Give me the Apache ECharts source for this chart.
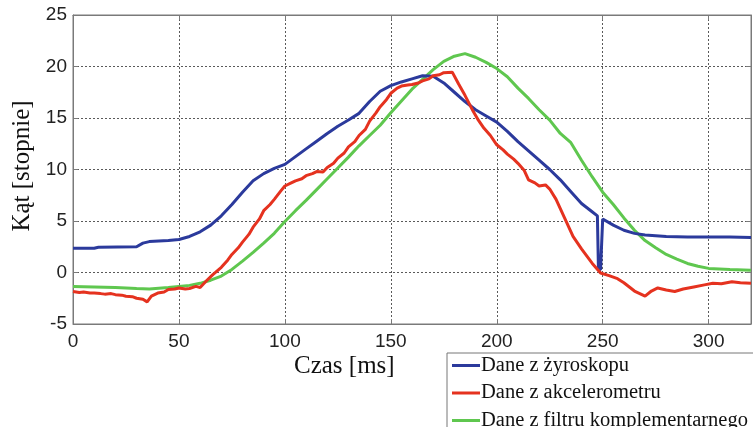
<!DOCTYPE html>
<html>
<head>
<meta charset="utf-8">
<script src="https://cdn.jsdelivr.net/npm/echarts@6/dist/echarts.min.js"></script>
<style>
html,body{margin:0;padding:0;background:#fff;}
#c{width:753px;height:427px;}
</style>
</head>
<body>
<div id="c"></div>
<script>
var seriesNames = ['Dane z żyroskopu', 'Dane z akcelerometru', 'Dane z filtru komplementarnego'];
var xTicks = [0, 50, 100, 150, 200, 250, 300];
var yTicks = [-5, 0, 5, 10, 15, 20, 25];

var gyroT = [0,10,12,30,33,36,45,50,55,60,65,70,75,80,85,90,95,100,105,110,115,120,125,130,135,140,145,150,155,160,165,170,175,180,185,190,195,200,205,210,215,220,225,230,235,240,245,247.5,248,249,250,255,260,265,270,280,290,300,310,320];
var gyroV = [2.35,2.35,2.45,2.5,2.85,3.0,3.1,3.2,3.5,3.95,4.6,5.5,6.6,7.8,8.9,9.6,10.1,10.5,11.25,12.0,12.75,13.5,14.2,14.8,15.45,16.6,17.6,18.15,18.5,18.8,19.1,19.05,18.4,17.5,16.6,15.8,15.2,14.6,13.7,12.7,11.8,10.9,10.0,9.0,7.85,6.7,5.9,5.5,0.3,0.3,5.2,4.6,4.1,3.8,3.65,3.5,3.45,3.45,3.45,3.4];

var accT = [0,3,5,8,10,13,15,18,20,23,25,28,30,33,35,37,40,43,45,48,50,53,55,58,60,63,66,70,73,75,78,80,83,85,88,90,93,95,98,100,103,105,108,110,113,115,118,120,123,125,128,130,133,135,138,140,143,145,148,150,153,155,158,160,163,165,168,170,173,175,179,182,185,189,191,194,197,200,203,205,208,210,213,215,218,220,223,225,228,232,236,240,245,249,253,257,260,265,270,273,276,280,284,288,293,298,302,306,311,315,320];
var accV = [-1.85,-1.95,-1.9,-2.0,-2.0,-2.05,-2.1,-2.05,-2.15,-2.2,-2.3,-2.35,-2.5,-2.6,-2.85,-2.3,-2.0,-1.9,-1.65,-1.6,-1.5,-1.6,-1.55,-1.35,-1.45,-0.8,-0.2,0.5,1.2,1.75,2.4,2.95,3.7,4.4,5.2,6.0,6.6,7.1,7.9,8.4,8.7,8.9,9.1,9.4,9.6,9.8,9.75,10.2,10.6,11.1,11.6,12.2,12.7,13.3,13.9,14.7,15.5,16.1,16.8,17.4,17.9,18.1,18.2,18.25,18.4,18.6,18.8,19.1,19.2,19.4,19.45,18.3,17.2,15.6,14.9,14.0,13.3,12.4,11.9,11.5,11.0,10.6,9.9,9.0,8.7,8.4,8.5,8.1,7.1,5.3,3.5,2.3,0.9,-0.05,-0.3,-0.6,-1.0,-1.8,-2.3,-1.8,-1.5,-1.7,-1.85,-1.6,-1.4,-1.2,-1.05,-1.1,-0.9,-1.0,-1.05];

var compT = [0,10,20,30,36,45,50,55,60,65,70,75,80,85,90,95,100,105,110,115,120,125,130,135,140,145,150,155,160,165,170,175,180,185,190,195,200,205,210,215,220,225,230,235,240,245,250,255,260,265,270,275,280,285,290,295,300,310,320];
var compV = [-1.35,-1.4,-1.45,-1.55,-1.6,-1.45,-1.35,-1.25,-1.05,-0.75,-0.35,0.3,1.1,1.95,2.85,3.8,4.95,6.0,7.0,8.05,9.1,10.15,11.2,12.3,13.3,14.3,15.5,16.65,17.8,18.75,19.7,20.5,21.0,21.25,20.9,20.4,19.8,19.0,17.9,16.9,15.8,14.8,13.5,12.6,10.9,9.3,7.8,6.6,5.3,4.1,3.1,2.4,1.75,1.3,0.88,0.6,0.4,0.28,0.23];

var colors = ['#2b3a9c', '#e5321f', '#5fc74f'];

function pairs(t, v) { return t.map(function (x, i) { return [x, v[i]]; }); }

var chart = echarts.init(document.getElementById('c'), null, {renderer: 'canvas'});
var axisCol = '#7a7a7a';
var gridLine = {show: true, lineStyle: {color: '#5a5a5a', type: [2, 2], width: 1}};
var tickLbl = {fontFamily: 'Liberation Sans', fontSize: 19, color: '#222'};

chart.setOption({
  animation: false,
  backgroundColor: '#ffffff',
  grid: {left: 73, right: 2, top: 15, bottom: 103, show: true, borderColor: axisCol, borderWidth: 1, backgroundColor: '#fff'},
  xAxis: [{
    type: 'value', min: 0, max: 320, interval: 50,
    axisLine: {show: true, onZero: false, lineStyle: {color: axisCol}},
    axisTick: {show: true, inside: true, length: 5, lineStyle: {color: axisCol}},
    axisLabel: Object.assign({margin: 8, customValues: xTicks}, tickLbl),
    splitLine: gridLine
  }, {
    type: 'value', min: 0, max: 320, interval: 50, position: 'top',
    axisLine: {show: true, onZero: false, lineStyle: {color: axisCol}},
    axisTick: {show: true, inside: true, length: 5, lineStyle: {color: axisCol}},
    axisLabel: {show: false}, splitLine: {show: false}
  }],
  yAxis: [{
    type: 'value', min: -5, max: 25, interval: 5,
    axisLine: {show: true, onZero: false, lineStyle: {color: axisCol}},
    axisTick: {show: true, inside: true, length: 5, lineStyle: {color: axisCol}},
    axisLabel: Object.assign({margin: 6, customValues: yTicks}, tickLbl),
    splitLine: gridLine
  }, {
    type: 'value', min: -5, max: 25, interval: 5, position: 'right',
    axisLine: {show: true, onZero: false, lineStyle: {color: axisCol}},
    axisTick: {show: true, inside: true, length: 5, lineStyle: {color: axisCol}},
    axisLabel: {show: false}, splitLine: {show: false}
  }],
  legend: {
    orient: 'vertical', left: 447, top: 353, height: 120, width: 320,
    padding: [2, 6, 6, 5],
    itemGap: 6.5, itemWidth: 28, itemHeight: 3, icon: 'rect',
    borderColor: '#777', borderWidth: 1, backgroundColor: '#fff',
    textStyle: {fontFamily: 'Liberation Serif', fontSize: 20.5, lineHeight: 20.5, color: '#111', padding: [0, 0, 0, -4]},
    data: seriesNames
  },
  graphic: [
    {type: 'text', left: 294, top: 354, style: {text: 'Czas [ms]', font: '25px "Liberation Serif"', fill: '#111'}},
    {type: 'text', x: 22, y: 166, rotation: Math.PI / 2, style: {text: 'Kąt [stopnie]', font: '25px "Liberation Serif"', fill: '#111', align: 'center', verticalAlign: 'middle'}}
  ],
  series: [
    {name: seriesNames[0], type: 'line', data: pairs(gyroT, gyroV), showSymbol: false, symbol: 'none', lineStyle: {width: 3, color: colors[0]}, itemStyle: {color: colors[0]}, z: 3},
    {name: seriesNames[1], type: 'line', data: pairs(accT, accV), showSymbol: false, symbol: 'none', lineStyle: {width: 3, color: colors[1]}, itemStyle: {color: colors[1]}, z: 4},
    {name: seriesNames[2], type: 'line', data: pairs(compT, compV), showSymbol: false, symbol: 'none', lineStyle: {width: 3, color: colors[2]}, itemStyle: {color: colors[2]}, z: 2}
  ]
});
</script>
</body>
</html>
